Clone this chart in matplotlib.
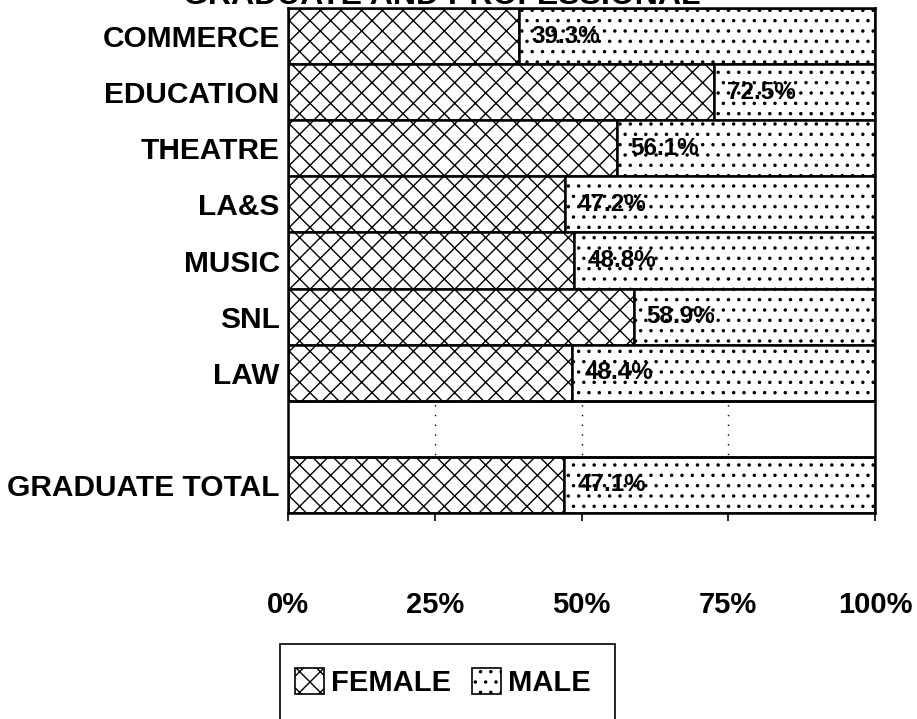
import matplotlib
matplotlib.use("Agg")
from matplotlib import pyplot as plt
from matplotlib.patches import Patch, Rectangle
from matplotlib.transforms import offset_copy

plt.rcParams['font.family'] = ['Liberation Sans', 'DejaVu Sans']

categories = ['COMMERCE', 'EDUCATION', 'THEATRE', 'LA&S', 'MUSIC', 'SNL', 'LAW', '', 'GRADUATE TOTAL']
female = [39.3, 72.5, 56.1, 47.2, 48.8, 58.9, 48.4, None, 47.1]
ticks = [0, 25, 50, 75, 100]
tick_labels = ['0%', '25%', '50%', '75%', '100%']

# a higher dpi makes the hatch pattern coarser; sizes below are rescaled to match
W, H = 917, 719
DPI = 124
k = 100 / DPI
plt.rcParams['hatch.linewidth'] = 1.0 * k

fig = plt.figure(figsize=(W / DPI, H / DPI), dpi=DPI)
ax = fig.add_axes([288 / W, 1 - 513 / H, 587 / W, 505 / H])

label_tr = offset_copy(ax.transData, fig=fig, x=13, y=0, units='dots')
ypos = list(range(len(categories)))[::-1]
for y, f in zip(ypos, female):
    if f is None:
        continue
    ax.barh(y, f, height=1.0, left=0, color='white', edgecolor='black',
            hatch='xx', linewidth=1.8 * k, zorder=2)
    ax.barh(y, 100 - f, height=1.0, left=f, color='white', edgecolor='black',
            hatch='..', linewidth=1.8 * k, zorder=2)
    ax.text(f, y, f'{f:.1f}%', va='center', ha='left', fontsize=17.5 * k,
            fontweight='bold', zorder=3, transform=label_tr)

# outline of the empty row
ax.axhline(ypos[7] + 0.5, color='black', lw=1.8 * k, zorder=3)
ax.axhline(ypos[7] - 0.5, color='black', lw=1.8 * k, zorder=3)

for t in [25, 50, 75]:
    ax.axvline(t, color='black', lw=1 * k, ls=(0, (1, 6)), zorder=1)

ax.set_xlim(0, 100)
ax.set_ylim(-0.5, len(categories) - 0.5)
ax.set_yticks(ypos)
ax.set_yticklabels(categories, fontsize=21.5 * k, fontweight='bold')
ax.set_xticks(ticks)
ax.set_xticklabels(tick_labels, fontsize=21 * k, fontweight='bold')
ax.tick_params(axis='x', direction='out', length=6 * k, pad=50 * k, width=1.2 * k)
ax.tick_params(axis='y', length=0, pad=6 * k)
for s in ax.spines.values():
    s.set_linewidth(1.8 * k)

# title is cut off by the top edge in the original scan
fig.text(442 / W, 1 - 4 / H, 'GRADUATE AND PROFESSIONAL', ha='center', va='baseline',
         fontsize=23 * k, fontweight='bold')

handles = [Patch(facecolor='white', edgecolor='black', hatch='xx', label='FEMALE', lw=1.2 * k),
           Patch(facecolor='white', edgecolor='black', hatch='..', label='MALE', lw=1.2 * k)]
leg = fig.legend(handles=handles, loc='upper left', bbox_to_anchor=(286 / W, 1 - 659 / H),
                 ncol=2, prop={'weight': 'bold', 'size': 21 * k}, frameon=False,
                 handlelength=1.0, handleheight=1.0, handletextpad=0.25,
                 columnspacing=0.7, borderpad=0.3, borderaxespad=0)
fig.add_artist(Rectangle((280 / W, -0.05), 335 / W, 0.05 + 75 / H,
                         transform=fig.transFigure, facecolor='none',
                         edgecolor='black', lw=1.2 * k))

fig.savefig('out.png', dpi=DPI)
